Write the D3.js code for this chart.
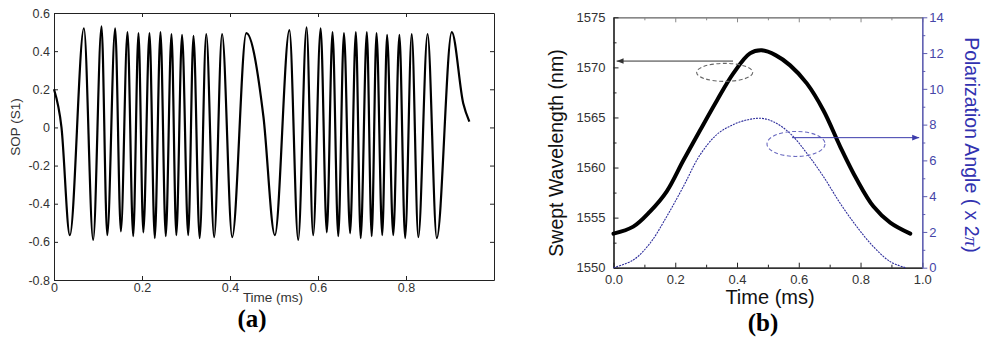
<!DOCTYPE html>
<html><head><meta charset="utf-8">
<script src="https://cdn.jsdelivr.net/npm/d3@7"></script>
<style>
html,body{margin:0;padding:0;background:#fff;}
svg{display:block;}
text{font-family:"Liberation Sans",Arial,sans-serif;}
</style></head>
<body>
<svg id="chart" width="982" height="341"></svg>
<script>
// ---------- Panel (a): SOP (S1) vs time ----------
const sopTime = [0, 0.017, 0.036, 0.068, 0.089, 0.108, 0.121, 0.139, 0.152, 0.167, 0.180, 0.192, 0.203, 0.217, 0.229, 0.242, 0.254, 0.267, 0.278, 0.291, 0.305, 0.317, 0.331, 0.346, 0.364, 0.382, 0.405, 0.437, 0.476, 0.502, 0.535, 0.555, 0.574, 0.589, 0.606, 0.620, 0.633, 0.646, 0.659, 0.673, 0.686, 0.697, 0.711, 0.722, 0.733, 0.746, 0.757, 0.771, 0.785, 0.798, 0.813, 0.828, 0.849, 0.870, 0.904, 0.930, 0.944];
const sopValue = [0.20, 0.00, -0.565, 0.52, -0.59, 0.53, -0.565, 0.52, -0.545, 0.50, -0.57, 0.495, -0.55, 0.495, -0.58, 0.50, -0.57, 0.49, -0.565, 0.485, -0.565, 0.48, -0.58, 0.49, -0.575, 0.49, -0.575, 0.495, 0.056, -0.565, 0.51, -0.59, 0.525, -0.565, 0.52, -0.55, 0.50, -0.57, 0.495, -0.555, 0.50, -0.58, 0.50, -0.57, 0.495, -0.565, 0.485, -0.565, 0.485, -0.58, 0.49, -0.575, 0.49, -0.58, 0.50, 0.127, 0.03];
const sopYTicks = [-0.8, -0.6, -0.4, -0.2, 0, 0.2, 0.4, 0.6];
const sopXTicks = [0, 0.2, 0.4, 0.6, 0.8];

// ---------- Panel (b): swept wavelength & polarization angle ----------
const wlTime = [0, 0.064, 0.118, 0.172, 0.226, 0.280, 0.335, 0.388, 0.442, 0.480, 0.526, 0.572, 0.626, 0.680, 0.734, 0.788, 0.842, 0.896, 0.961];
const wlValue = [1553.4, 1554.1, 1555.6, 1557.6, 1560.7, 1563.7, 1566.7, 1569.4, 1571.4, 1571.7, 1571.2, 1570.2, 1568.4, 1565.7, 1562.1, 1558.8, 1556.1, 1554.5, 1553.4];
const paTime = [0, 0.064, 0.118, 0.172, 0.226, 0.280, 0.335, 0.388, 0.442, 0.480, 0.518, 0.572, 0.626, 0.680, 0.734, 0.788, 0.842, 0.896, 0.945];
const paValue = [0, 0.43, 1.36, 2.85, 4.53, 6.3, 7.45, 8.0, 8.3, 8.35, 8.16, 7.51, 6.4, 5.09, 3.6, 2.29, 1.17, 0.34, 0];
const bXTicks = [0, 0.2, 0.4, 0.6, 0.8, 1.0];
const bXMinor = [0.1, 0.3, 0.5, 0.7, 0.9];
const wlTicks = [1550, 1555, 1560, 1565, 1570, 1575];
const wlMinor = [1552.5, 1557.5, 1562.5, 1567.5, 1572.5];
const paTicks = [0, 2, 4, 6, 8, 10, 12, 14];
const paMinor = [1, 3, 5, 7, 9, 11, 13];
// annotations (data coordinates)
const wlArrow = {from: 0.387, to: 0.010, value: 1570.63};
const wlEllipse = {t: 0.360, value: 1569.5};
const paArrow = {from: 0.578, to: 0.990, value: 7.27};
const paEllipse = {t: 0.591, value: 6.92};

const svg = d3.select("#chart");
const defs = svg.append("defs");
function marker(id, color){
  defs.append("marker").attr("id", id).attr("viewBox","0 0 10 10")
    .attr("refX",10).attr("refY",5).attr("markerWidth",7).attr("markerHeight",7)
    .attr("markerUnits","userSpaceOnUse").attr("orient","auto")
    .append("path").attr("d","M0,1 L10,5 L0,9 Z").attr("fill",color);
}
const BLUE = "#3b3bab", BLUE_AX = "#5c5cb0";
marker("arrBlack", "#333");
marker("arrBlue", BLUE);

// ===== Panel (a) =====
const xA = d3.scaleLinear([0, 1], [54, 494]);
const yA = d3.scaleLinear([-0.8, 0.6], [280, 13]);
const fmtA = d => d === 0 ? "0" : d.toFixed(1);
const gA = svg.append("g");

function styleAxis(g, color, fontSize, textColor){
  g.selectAll("path").attr("stroke", color).attr("stroke-width", 1);
  g.selectAll("line").attr("stroke", color);
  g.selectAll("text").attr("fill", textColor).style("font-size", fontSize + "px")
    .style("font-family", '"Liberation Sans",Arial,sans-serif');
}

let ax;
ax = gA.append("g").attr("transform", `translate(0,${yA(-0.8)})`)
  .call(d3.axisBottom(xA).tickValues(sopXTicks).tickFormat(fmtA).tickSizeInner(-4).tickSizeOuter(0).tickPadding(3));
styleAxis(ax, "#222", 12.5, "#333");
ax = gA.append("g").attr("transform", `translate(0,${yA(0.6)})`)
  .call(d3.axisTop(xA).tickValues(sopXTicks).tickFormat("").tickSizeInner(-4).tickSizeOuter(0));
styleAxis(ax, "#222", 12, "#333");
ax = gA.append("g").attr("transform", `translate(${xA(0)},0)`)
  .call(d3.axisLeft(yA).tickValues(sopYTicks).tickFormat(fmtA).tickSizeInner(-4).tickSizeOuter(0).tickPadding(4));
styleAxis(ax, "#222", 12.5, "#333");
ax = gA.append("g").attr("transform", `translate(${xA(1)},0)`)
  .call(d3.axisRight(yA).tickValues(sopYTicks).tickFormat("").tickSizeInner(-4).tickSizeOuter(0));
styleAxis(ax, "#222", 12, "#333");

const sopData = sopTime.map((t, i) => [t, sopValue[i]]);
gA.append("path").datum(sopData)
  .attr("fill", "none").attr("stroke", "#000").attr("stroke-width", 2.2).attr("stroke-linejoin","round")
  .attr("d", d3.line().x(d => xA(d[0])).y(d => yA(d[1])).curve(d3.curveMonotoneX));

gA.append("text").attr("transform", "translate(15,127) rotate(-90)")
  .attr("text-anchor", "middle").attr("dy", "0.35em").style("font-size", "13.5px").attr("fill", "#333")
  .text("SOP (S1)");
gA.append("text").attr("x", 273).attr("y", 301.5).attr("text-anchor", "middle")
  .style("font-size", "13.5px").attr("fill", "#333").text("Time (ms)");
gA.append("text").attr("x", 252).attr("y", 327).attr("text-anchor", "middle")
  .style("font-family", '"Liberation Serif","Times New Roman",serif').style("font-weight", "bold")
  .style("font-size", "25px").attr("fill", "#000").text("(a)");

// ===== Panel (b) =====
const xB = d3.scaleLinear([0, 1], [613.5, 922.3]);
const yB = d3.scaleLinear([1550, 1575], [267.7, 17.3]);
const yC = d3.scaleLinear([0, 14], [267.7, 17.3]);
const gB = svg.append("g");

// minor ticks
ax = gB.append("g").attr("transform", `translate(0,${yB(1550)})`)
  .call(d3.axisBottom(xB).tickValues(bXMinor).tickFormat("").tickSizeInner(-3).tickSizeOuter(0));
styleAxis(ax, "#222", 13, "#222");
ax = gB.append("g").attr("transform", `translate(0,${yB(1575)})`)
  .call(d3.axisTop(xB).tickValues(bXMinor).tickFormat("").tickSizeInner(-3).tickSizeOuter(0));
styleAxis(ax, "#888", 13, "#222");
ax = gB.append("g").attr("transform", `translate(${xB(0)},0)`)
  .call(d3.axisLeft(yB).tickValues(wlMinor).tickFormat("").tickSizeInner(-3).tickSizeOuter(0));
styleAxis(ax, "#222", 13, "#222");
ax = gB.append("g").attr("transform", `translate(${xB(1)},0)`)
  .call(d3.axisRight(yC).tickValues(paMinor).tickFormat("").tickSizeInner(3).tickSizeOuter(0));
styleAxis(ax, BLUE_AX, 13, BLUE);

// major ticks
ax = gB.append("g").attr("transform", `translate(0,${yB(1575)})`)
  .call(d3.axisTop(xB).tickValues(bXTicks).tickFormat("").tickSizeInner(-5).tickSizeOuter(0));
styleAxis(ax, "#888", 13, "#222");
ax.select(".domain").attr("stroke-width", 1.5);
ax = gB.append("g").attr("transform", `translate(0,${yB(1550)})`)
  .call(d3.axisBottom(xB).tickValues(bXTicks).tickFormat(d3.format(".1f")).tickSizeInner(-5).tickSizeOuter(0).tickPadding(7));
styleAxis(ax, "#222", 13, "#333");
ax.select(".domain").attr("stroke-width", 1.3);
ax = gB.append("g").attr("transform", `translate(${xB(0)},0)`)
  .call(d3.axisLeft(yB).tickValues(wlTicks).tickFormat(d3.format("d")).tickSizeInner(-5).tickSizeOuter(0).tickPadding(8));
styleAxis(ax, "#222", 13, "#333");
ax.select(".domain").attr("stroke-width", 1.3);
ax = gB.append("g").attr("transform", `translate(${xB(1)},0)`)
  .call(d3.axisRight(yC).tickValues(paTicks).tickFormat(d3.format("d")).tickSizeInner(5).tickSizeOuter(0).tickPadding(2));
styleAxis(ax, BLUE_AX, 13, "#4545a8");
ax.select(".domain").attr("stroke-width", 1.3);

// curves
const smooth = d3.curveCatmullRom.alpha(0.5);
const paData = paTime.map((t, i) => [t, paValue[i]]);
gB.append("path").datum(paData)
  .attr("fill", "none").attr("stroke", "#2f2f9c").attr("stroke-width", 1.1).attr("stroke-dasharray", "2 1")
  .attr("d", d3.line().x(d => xB(d[0])).y(d => yC(d[1])).curve(smooth));
const wlData = wlTime.map((t, i) => [t, wlValue[i]]);
gB.append("path").datum(wlData)
  .attr("fill", "none").attr("stroke", "#000").attr("stroke-width", 4).attr("stroke-linecap","round")
  .attr("d", d3.line().x(d => xB(d[0])).y(d => yB(d[1])).curve(smooth));

// annotations
gB.append("ellipse").attr("cx", xB(wlEllipse.t)).attr("cy", yB(wlEllipse.value)).attr("rx", 28).attr("ry", 9)
  .attr("fill", "none").attr("stroke", "#666").attr("stroke-width", 1.1).attr("stroke-dasharray", "4 2.5");
gB.append("line").attr("x1", xB(wlArrow.from)).attr("x2", xB(wlArrow.to))
  .attr("y1", yB(wlArrow.value)).attr("y2", yB(wlArrow.value))
  .attr("stroke", "#333").attr("stroke-width", 1).attr("marker-end", "url(#arrBlack)");
gB.append("ellipse").attr("cx", xB(paEllipse.t)).attr("cy", yC(paEllipse.value)).attr("rx", 29).attr("ry", 12.5)
  .attr("fill", "none").attr("stroke", "#6a6ac0").attr("stroke-width", 1.1).attr("stroke-dasharray", "4 2.5");
gB.append("line").attr("x1", xB(paArrow.from)).attr("x2", xB(paArrow.to))
  .attr("y1", yC(paArrow.value)).attr("y2", yC(paArrow.value))
  .attr("stroke", BLUE).attr("stroke-width", 1).attr("marker-end", "url(#arrBlue)");

// labels
gB.append("text").attr("transform", "translate(556,153) rotate(-90)")
  .attr("text-anchor", "middle").attr("dy", "0.35em").style("font-size", "19.5px").attr("fill", "#111")
  .text("Swept Wavelength (nm)");
const pl = gB.append("text").attr("transform", "translate(972,145) rotate(90)")
  .attr("text-anchor", "middle").attr("dy", "0.35em").style("font-size", "19.5px").attr("fill", "#3232b0");
pl.append("tspan").text("Polarization Angle ( x 2");
pl.append("tspan").style("font-family", '"Liberation Serif","Times New Roman",serif').style("font-style","italic").text("π");
pl.append("tspan").text(")");
gB.append("text").attr("x", 770).attr("y", 304).attr("text-anchor", "middle")
  .style("font-size", "20px").attr("fill", "#111").text("Time (ms)");
gB.append("text").attr("x", 763).attr("y", 331).attr("text-anchor", "middle")
  .style("font-family", '"Liberation Serif","Times New Roman",serif').style("font-weight", "bold")
  .style("font-size", "25px").attr("fill", "#000").text("(b)");
</script>
</body></html>
